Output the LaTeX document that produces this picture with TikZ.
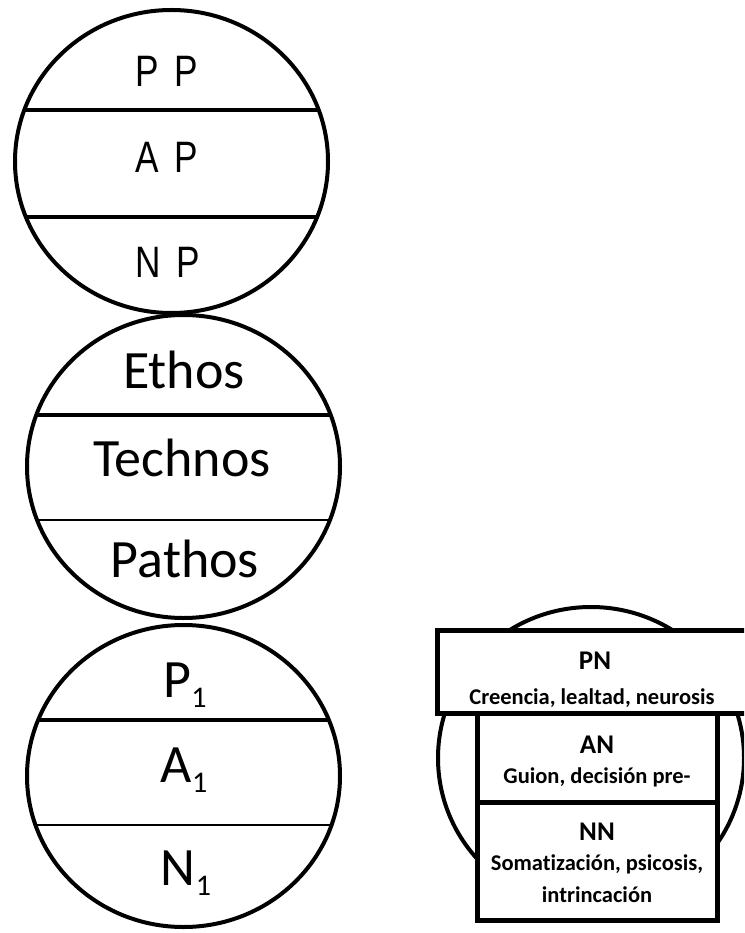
\documentclass[tikz,border=0pt]{standalone}
\usepackage{fontspec}
\setmainfont{Carlito}[Ligatures=NoCommon]
\newfontfamily\geofont{Liberation Sans}
\usetikzlibrary{shapes.geometric}
\tikzset{
  ring/.style={line width=4pt},
  chord/.style={line width=3.2pt},
  thinchord/.style={line width=2.2pt},
  boxline/.style={line width=5pt, fill=white},
  geolbl/.style={anchor=base, inner sep=0pt},
  biglbl/.style={anchor=base, inner sep=0pt, font=\fontsize{54}{54}\selectfont},
  headlbl/.style={anchor=base, inner sep=0pt, font=\bfseries\fontsize{27}{27}\selectfont},
  desclbl/.style={anchor=base, inner sep=0pt, font=\bfseries\fontsize{22.5}{22.5}\selectfont},
}
\newcommand{\geotext}[1]{\scalebox{0.8}[1]{\geofont\fontsize{44}{44}\selectfont #1}}
\newcommand{\subone}{\raisebox{-10pt}{\fontsize{30}{30}\selectfont 1}}
\begin{document}
\begin{tikzpicture}[x=1pt,y=-1pt]
\clip (0,0) rectangle (744,933);
\fill[white] (0,0) rectangle (744,933);
% circle 1
\begin{scope}
  \clip (171.5,161.5) ellipse [x radius=156.5, y radius=151.5];
  \draw[chord] (0,110) -- (360,110);
  \draw[chord] (0,217) -- (360,217);
\end{scope}
\draw[ring] (171.5,161.5) ellipse [x radius=156.5, y radius=151.5];
\node[geolbl] (pp) at (167,87) {\geotext{P\hspace{0.45em}P}};
\node[geolbl] (ap) at (167,173) {\geotext{A\hspace{0.45em}P}};
\node[geolbl] (np) at (168,277) {\geotext{N\hspace{0.45em}P}};
% circle 2
\begin{scope}
  \clip (183.5,466.5) ellipse [x radius=156.5, y radius=151.5];
  \draw[chord] (0,415) -- (360,415);
  \draw[thinchord] (0,520) -- (360,520);
\end{scope}
\draw[ring] (183.5,466.5) ellipse [x radius=156.5, y radius=151.5];
\node[biglbl] (ethos) at (184,388) {Ethos};
\node[biglbl] (technos) at (182,476) {Technos};
\node[biglbl] (pathos) at (185,577) {Pathos};
% circle 3
\begin{scope}
  \clip (183.5,776) ellipse [x radius=156.5, y radius=151];
  \draw[chord] (0,720) -- (360,720);
  \draw[thinchord] (0,825) -- (360,825);
\end{scope}
\draw[ring] (183.5,776) ellipse [x radius=156.5, y radius=151];
\node[biglbl] (p1) at (185,697) {P\subone};
\node[biglbl] (a1) at (184,782) {A\subone};
\node[biglbl] (n1) at (186,885) {N\subone};
% right figure
\draw[ring] (591,758) ellipse [x radius=153, y radius=151];
\draw[boxline] (437,630) rectangle (760,713);
\draw[boxline] (477,713) rectangle (717,802);
\draw[boxline] (477,802) rectangle (717,920);
\node[headlbl] (pn) at (595,669) {PN};
\node[desclbl] (pnd) at (592,704) {Creencia, lealtad, neurosis};
\node[headlbl] (an) at (597,753) {AN};
\node[desclbl] (and) at (597,783) {Guion, decisión pre-};
\node[headlbl] (nn) at (597,840) {NN};
\node[desclbl] (nnd1) at (597,870) {Somatización, psicosis,};
\node[desclbl] (nnd2) at (597,902) {intrincación};
\end{tikzpicture}
\end{document}
